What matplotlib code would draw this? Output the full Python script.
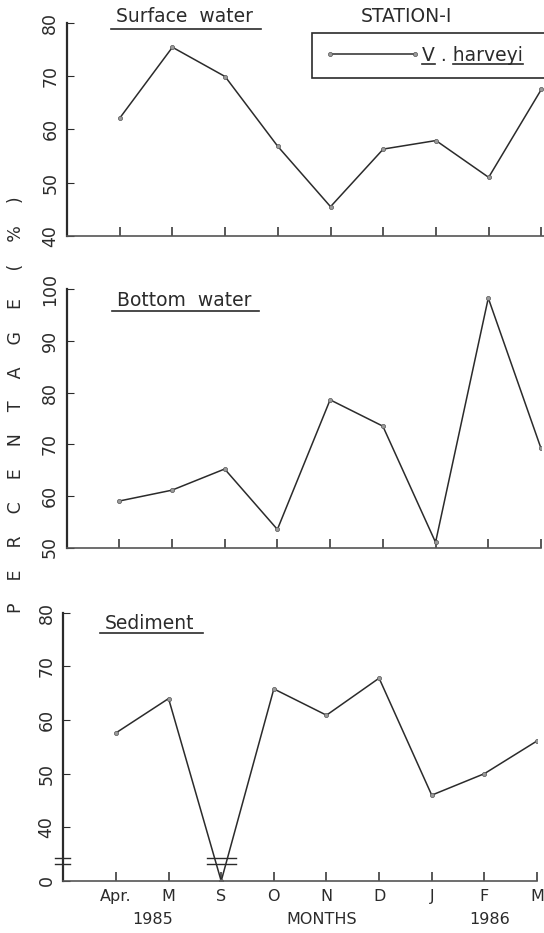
import numpy as np
import matplotlib
matplotlib.use("Agg")
import matplotlib.pyplot as plt
from matplotlib.lines import Line2D
from matplotlib.transforms import blended_transform_factory

# valores (%), Abr 1985 - Mar 1986
months = ["Apr.", "M", "S", "O", "N", "D", "J", "F", "M"]
surface = [62.1, 75.4, 69.9, 56.8, 45.5, 56.3, 57.9, 51.0, 67.5]
bottom = [59.0, 61.1, 65.2, 53.5, 78.6, 73.5, 51.0, 98.3, 69.2]
sediment = [57.6, 64.0, 0.0, 65.8, 60.9, 67.8, 46.0, 50.0, 56.1]

W, H = 544, 933
INK = "#2b2b2b"
plt.rcParams["font.family"] = ["DejaVu Sans"]
plt.rcParams["text.color"] = INK

fig = plt.figure(figsize=(W / 100, H / 100), dpi=100)


def box(left, top, right, bot):
    return [left / W, 1 - bot / H, (right - left) / W, (bot - top) / H]


def px(x, y):
    return x / W, 1 - y / H


x = np.arange(1, len(months) + 1)

ax1 = fig.add_axes(box(67, 22.7, 544, 236))
ax2 = fig.add_axes(box(66.5, 289.3, 541, 547.5))
ax3 = fig.add_axes(box(63.3, 612.7, 537, 881))

# eje cortado en sedimento: 0-40 comprimido
def fwd(v):
    v = np.asarray(v, dtype=float)
    return np.where(v < 40, 30 + v / 4, v)


def inv(y):
    y = np.asarray(y, dtype=float)
    return np.where(y < 40, (y - 30) * 4, y)


ax3.set_yscale("function", functions=(fwd, inv))

line_kw = dict(color=INK, lw=1.1, marker="o", ms=3, mfc="#9a9a9a", mec="#555", mew=0.5)
ax1.plot(x, surface, label="V . harveyi", **line_kw)
ax2.plot(x, bottom, **line_kw)
ax3.plot(x, sediment, **line_kw)


def style(ax, ylim, yticks, xmax):
    ax.set_xlim(0, xmax)
    ax.set_ylim(*ylim)
    ax.set_xticks(x)
    ax.set_yticks(yticks)
    ax.set_yticklabels([str(t) for t in yticks])
    ax.spines["top"].set_visible(False)
    ax.spines["right"].set_visible(False)
    ax.spines["left"].set_linewidth(1.6)
    ax.spines["bottom"].set_linewidth(1.2)
    ax.spines["left"].set_color(INK)
    ax.spines["bottom"].set_color("#555")
    ax.tick_params(axis="x", direction="in", length=6.5, width=1.1, colors=INK,
                   labelbottom=False)
    ax.tick_params(axis="y", direction="in", length=5, width=0.8, colors=INK,
                   labelsize=12.5, labelrotation=90, pad=5.5)
    for lab in ax.get_yticklabels():
        lab.set_va("center")


style(ax1, (40, 80), [40, 50, 60, 70, 80], 9.05)
style(ax2, (50, 100), [50, 60, 70, 80, 90, 100], 9.0)
style(ax3, (0, 80), [0, 40, 50, 60, 70, 80], 9.0)

ax3.set_xticklabels(months)
ax3.tick_params(axis="x", labelbottom=True, labelsize=11.5, pad=6)

# marcas de corte
tr = blended_transform_factory(ax3.transAxes, ax3.transData)
for yv in (13.0, 16.8):
    ax3.plot([-0.0175, 0.014], [yv, yv], transform=tr, color=INK, lw=1.0, clip_on=False)
    ax3.plot([2.73, 3.28], [yv, yv], color=INK, lw=1.0, clip_on=False)

# textos
fig.text(*px(153, 920), "1985", ha="center", va="center", fontsize=11.5)
fig.text(*px(322, 920), "MONTHS", ha="center", va="center", fontsize=11.5)
fig.text(*px(490, 920), "1986", ha="center", va="center", fontsize=11.5)

ylab = "    ".join("PERCENTAGE") + "     " + "    ".join("(%)")
fig.text(*px(16, 405), ylab, rotation=90, ha="center", va="center", fontsize=12.5)

t_surf = fig.text(*px(184, 16.7), "Surface  water", ha="center", va="center", fontsize=13.5)
t_bot = fig.text(*px(184, 300), "Bottom  water", ha="center", va="center", fontsize=13.5)
t_sed = fig.text(*px(150, 623.3), "Sediment", ha="center", va="center", fontsize=13.5)
fig.text(*px(406, 16.7), "STATION-I", ha="center", va="center", fontsize=13.5)

leg = ax1.legend(loc="upper left",
                 bbox_to_anchor=(312 / W, 1 - 76.7 / H, (580 - 312) / W, (76.7 - 33.3) / H),
                 bbox_transform=fig.transFigure, mode="expand", borderaxespad=0,
                 fancybox=False, edgecolor=INK, framealpha=1, fontsize=13.5,
                 handlelength=5.1, handletextpad=0.1, borderpad=0.68, numpoints=2)
leg.get_frame().set_linewidth(1.2)

fig.canvas.draw()
r = fig.canvas.get_renderer()


def hline(x0, x1, y):
    fig.add_artist(Line2D([x0 / W, x1 / W], [1 - y / H, 1 - y / H], color=INK, lw=1.2))


for t, y in ((t_surf, 29.3), (t_bot, 311), (t_sed, 632.7)):
    bb = t.get_window_extent(r)
    hline(bb.x0 - 5, bb.x1 + 8, y)


def width(s, fs):
    tmp = fig.text(0, 0, s, fontsize=fs)
    w = tmp.get_window_extent(r).width
    tmp.remove()
    return w


lt = leg.get_texts()[0]
bb = lt.get_window_extent(r)
lt_y = H - bb.y0 - 1
hline(bb.x0, bb.x0 + width("V", 13.5), lt_y)
hline(bb.x0 + width("V . h", 13.5) - width("h", 13.5), bb.x1, lt_y)

fig.savefig("out.png", dpi=100)
